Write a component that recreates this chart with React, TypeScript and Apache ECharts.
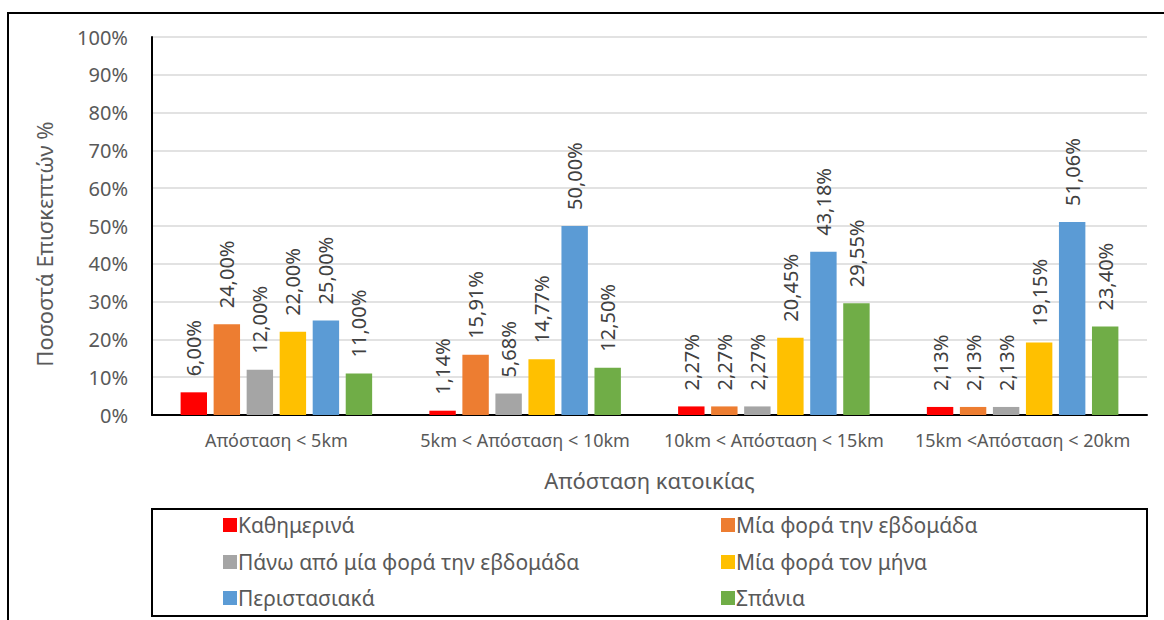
import React, { useEffect, useRef } from "react";
import * as echarts from "echarts";

const categories = [
  "Απόσταση < 5km",
  "5km < Απόσταση < 10km",
  "10km < Απόσταση < 15km",
  "15km <Απόσταση < 20km",
];

const seriesNames = [
  "Καθημερινά",
  "Μία φορά την εβδομάδα",
  "Πάνω από μία φορά την εβδομάδα",
  "Μία φορά τον μήνα",
  "Περιστασιακά",
  "Σπάνια",
];

const daily = [6.0, 1.14, 2.27, 2.13];
const oncePerWeek = [24.0, 15.91, 2.27, 2.13];
const morePerWeek = [12.0, 5.68, 2.27, 2.13];
const oncePerMonth = [22.0, 14.77, 20.45, 19.15];
const occasionally = [25.0, 50.0, 43.18, 51.06];
const rarely = [11.0, 12.5, 29.55, 23.4];

const seriesValues = [daily, oncePerWeek, morePerWeek, oncePerMonth, occasionally, rarely];
const colors = ["#FF0000", "#ED7D31", "#A5A5A5", "#FFC000", "#5B9BD5", "#70AD47"];

const yTicks = [0, 10, 20, 30, 40, 50, 60, 70, 80, 90, 100];

const FONT = "'Noto Sans', 'Open Sans', sans-serif";

// legend slot: [left, top] for each series, two columns x three rows
const legendLefts = [223, 721, 223, 721, 223, 721];
const legendTops = [513, 513, 550, 550, 586, 586];

export default function App() {
  const ref = useRef<HTMLDivElement>(null);

  useEffect(() => {
    if (!ref.current) return;
    const chart = echarts.init(ref.current, null, { renderer: "svg" });
    const option: any = {
      animation: false,
      backgroundColor: "#ffffff",
      textStyle: { fontFamily: FONT },
      grid: { left: 152, right: 17, top: 37, bottom: 205, containLabel: false },
      xAxis: {
        type: "category",
        data: categories,
        name: "Απόσταση κατοικίας",
        nameLocation: "middle",
        nameGap: 54,
        nameTextStyle: { color: "#595959", fontSize: 22, fontFamily: FONT },
        axisLine: { show: true, lineStyle: { color: "#000000", width: 2 } },
        axisTick: { show: false },
        axisLabel: { color: "#595959", fontSize: 18, margin: 16, fontFamily: FONT, interval: 0 },
        splitLine: { show: false },
      },
      yAxis: {
        type: "value",
        min: yTicks[0],
        max: yTicks[yTicks.length - 1],
        interval: 10,
        axisLine: { show: true, lineStyle: { color: "#000000", width: 2 } },
        axisTick: { show: false },
        axisLabel: {
          color: "#595959",
          fontSize: 20,
          margin: 24,
          fontFamily: FONT,
          formatter: (v: number) => `${v}%`,
        },
        splitLine: { show: true, lineStyle: { color: "#D9D9D9", width: 1.5 } },
      },
      legend: seriesNames.map((name, i) => ({
        orient: "horizontal",
        left: legendLefts[i],
        top: legendTops[i],
        padding: 0,
        itemWidth: 14,
        itemHeight: 14,
        itemGap: 0,
        icon: "rect",
        data: [name],
        textStyle: { color: "#595959", fontSize: 21, lineHeight: 24, fontFamily: FONT, padding: [0, 0, 0, -4] },
      })),
      series: seriesNames.map((name, i) => ({
        name,
        type: "bar",
        data: seriesValues[i],
        barGap: "25%",
        barCategoryGap: "23%",
        itemStyle: { color: colors[i] },
        label: {
          show: true,
          position: "top",
          rotate: 90,
          align: "left",
          verticalAlign: "middle",
          distance: 16,
          color: "#404040",
          fontSize: 20,
          fontFamily: FONT,
          formatter: (p: any) => `${p.value.toFixed(2).replace(".", ",")}%`,
        },
      })),
      graphic: [
        {
          type: "rect",
          shape: { x: 8, y: 13, width: 1300, height: 800 },
          style: { fill: "none", stroke: "#000000", lineWidth: 2 },
          silent: true,
          z: -1,
        },
        {
          type: "rect",
          shape: { x: 152, y: 509, width: 995, height: 107 },
          style: { fill: "none", stroke: "#000000", lineWidth: 2 },
          silent: true,
          z: -1,
        },
        {
          type: "text",
          x: 44,
          y: 244,
          rotation: Math.PI / 2,
          style: {
            text: "Ποσοστά Επισκεπτών %",
            fill: "#595959",
            fontSize: 22,
            fontFamily: FONT,
            align: "center",
            verticalAlign: "middle",
          },
        },
      ],
    };
    chart.setOption(option);
    return () => chart.dispose();
  }, []);

  return (
    <div
      ref={ref}
      style={{ position: "fixed", left: 0, top: 0, width: 1164, height: 620, background: "#fff" }}
    />
  );
}
